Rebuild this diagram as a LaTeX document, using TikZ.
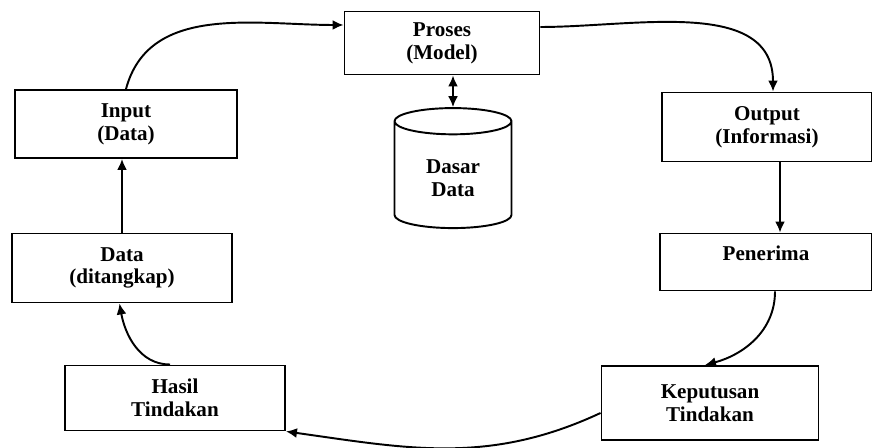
\documentclass[tikz,border=0pt]{standalone}
\usepackage{fontspec}
\setmainfont{Liberation Serif}
\usetikzlibrary{shapes.geometric,arrows.meta}

\begin{document}
\begin{tikzpicture}[
    box/.style={draw,line width=1.1pt,align=center,inner sep=2pt,
        font=\fontsize{12}{13}\selectfont\bfseries},
    db/.style={draw,line width=1.1pt,cylinder,shape border rotate=90,aspect=0.4,
        align=center,font=\fontsize{12}{13}\selectfont\bfseries},
    flow/.style={line width=1.1pt,-{Latex[length=2.2mm,width=2mm]}},
    ]
    \useasboundingbox[fill=white] (0,0) rectangle (17.44,8.96);
    % boxes
    \node[box,minimum width=3.9cm,minimum height=1.26cm] (proses) at (8.84,8.10) {Proses\\(Model)};
    \node[box,minimum width=4.44cm,minimum height=1.36cm] (input) at (2.52,6.48) {Input\\(Data)};
    \node[box,minimum width=4.2cm,minimum height=1.38cm] (output) at (15.34,6.42) {Output\\(Informasi)};
    \node[db,minimum width=2.34cm,minimum height=2.4cm] (dasar) at (9.06,5.40) {Dasar\\Data};
    \node[box,minimum width=4.4cm,minimum height=1.38cm] (data) at (2.44,3.60) {Data\\(ditangkap)};
    \node[box,minimum width=4.24cm,minimum height=1.14cm,text depth=0.35cm] (penerima) at (15.32,3.72) {Penerima};
    \node[box,minimum width=4.4cm,minimum height=1.3cm] (hasil) at (3.50,1.00) {Hasil\\Tindakan};
    \node[box,minimum width=4.34cm,minimum height=1.48cm] (keputusan) at (14.20,0.90) {Keputusan\\Tindakan};
    % connectors
    \draw[flow] (input.north) to[out=75,in=180] ([yshift=0.36cm]proses.west);
    \draw[flow] ([yshift=0.32cm]proses.east) to[out=0,in=90] ([xshift=0.12cm]output.north);
    \draw[line width=1.1pt,{Latex[length=2.2mm,width=2mm]}-{Latex[length=2.2mm,width=2mm]}]
        (dasar.north |- proses.south) -- (dasar.north);
    \draw[flow] ([xshift=0.26cm]output.south) -- ([xshift=0.26cm]output.south |- penerima.north);
    \draw[flow] ([xshift=0.18cm]penerima.south) to[out=-90,in=15] ([xshift=-0.1cm]keputusan.north);
    \draw[flow] ([yshift=-0.2cm]keputusan.west) to[out=205,in=-8] (hasil.south east);
    \draw[flow] ([xshift=-0.1cm]hasil.north) to[out=180,in=-80] ([xshift=-0.05cm]data.south);
    \draw[flow] (data.north) -- (data.north |- input.south);
\end{tikzpicture}
\end{document}
